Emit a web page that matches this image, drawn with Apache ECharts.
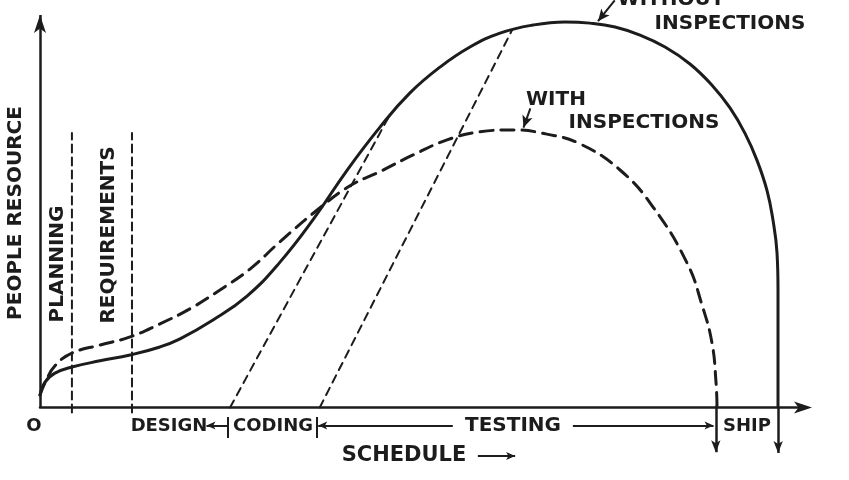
<!DOCTYPE html>
<html><head><meta charset="utf-8">
<script src="https://cdn.jsdelivr.net/npm/echarts@6.0.0/dist/echarts.min.js"></script>
<style>html,body{margin:0;padding:0;background:#fff}#c{width:849px;height:480px}</style>
</head><body><div id="c"></div>
<script>
// Schedule (x) vs people resource (y), arbitrary units
const withoutInspections = [
  [0,3.2],[0.66,6.6],[1.97,8.9],[4.21,10.5],[7.89,12.1],[11.84,13.6],[15.78,15.7],[18.42,17.8],
  [22.76,22.7],[27.23,28.9],[31.57,37.7],[35.99,48.9],[40.41,61.6],[44.75,72.8],[48.67,81.6],
  [52.62,88.3],[56.56,93.5],[60.51,97.1],[64.85,99.2],[69.06,100],[72.35,99.7],[75.64,98.7],
  [78.93,96.6],[82.22,93.5],[85.50,89.1],[88.40,83.6],[90.77,77.7],[92.74,71.1],[94.32,64.1],
  [95.63,56.3],[96.42,48.6],[96.95,40.1],[97.08,30.5],[97.08,0.1]
];
const withInspections = [
  [0,3.2],[0.66,6.4],[1.97,10.8],[4.21,14.1],[7.89,16.2],[11.84,18.3],[15.78,21.7],[19.73,25.6],
  [23.68,30.5],[27.62,35.9],[31.57,43.0],[36.83,51.8],[40.78,57.5],[44.73,61.2],[49.07,65.5],
  [53.54,69.4],[57.88,71.5],[62.22,72.0],[66.69,70.9],[71.03,68.4],[76.30,61.6],[80.64,52.0],
  [85.11,37.5],[87.08,26.6],[88.40,16.7],[88.93,6.4],[89.06,0.1]
];
const codingStart = [[25,0],[45.8,75.1]];
const testingStart = [[36.8,0],[62.1,97.9]];
const planningEnd = [[4.2,-1.3],[4.2,71.2]];
const requirementsEnd = [[12.1,-1.3],[12.1,71.2]];
// arrows: [from, to]
const yAxisArrow = [[[0,0],[0,101.8]]];
const calloutArrows = [[[75.6,105.6],[73.4,100.2]], [[64.5,77.6],[63.6,72.6]]];
const endArrows = [[[88.9,0.5],[88.9,-11.6]], [[97.1,0],[97.1,-11.8]]];
const phaseArrows = [[[54.3,-4.67],[36.6,-4.67]], [[70.1,-4.67],[88.6,-4.67]], [[24.6,-4.67],[21.9,-4.67]], [[57.6,-12.6],[62.5,-12.6]]];
const phaseBars = [[[24.7,-2.5],[24.7,-7.9]], [[36.4,-2.5],[36.4,-7.9]]];

const ink = '#1c1c1c';
const FONT = 'bold 20px "DejaVu Sans"';
const FONT_S = 'bold 18px "DejaVu Sans"';

function marks(name, segs, symbol, size, width) {
  return {
    type: 'line', name, data: [], silent: true, animation: false,
    markLine: {
      silent: true, animation: false, symbol: symbol, symbolSize: size,
      label: { show: false }, emphasis: { disabled: true },
      lineStyle: { color: ink, width: width, type: 'solid' },
      data: segs.map(s => [{ coord: s[0] }, { coord: s[1] }])
    }
  };
}
function lineSeries(name, data, width, type, smooth) {
  return {
    type: 'line', name, data, smooth: smooth, symbol: 'none', silent: true, animation: false,
    clip: false,
    lineStyle: { color: ink, width: width, type: type, cap: 'round' }
  };
}
function txt(text, x, y, font, rot) {
  return { type: 'text', x: x, y: y, rotation: rot || 0, silent: true,
    style: { text: text, font: font, fill: ink, align: 'center', verticalAlign: 'middle' } };
}

const chart = echarts.init(document.getElementById('c'), null, { renderer: 'canvas' });
chart.setOption({
  backgroundColor: '#fff',
  animation: false,
  grid: { left: 40, right: 45, top: 0, bottom: 14.7, containLabel: false },
  xAxis: {
    type: 'value', min: 0, max: 100.5,
    axisLine: { show: true, onZero: true, symbol: ['none', 'arrow'], symbolSize: [9, 18], symbolOffset: [0, 8],
      lineStyle: { color: ink, width: 2.5 } },
    axisTick: { show: false }, axisLabel: { show: false }, splitLine: { show: false }
  },
  yAxis: {
    type: 'value', min: -15, max: 105.7,
    axisLine: { show: false }, axisTick: { show: false }, axisLabel: { show: false }, splitLine: { show: false }
  },
  series: [
    lineSeries('Without inspections', withoutInspections, 3, 'solid', 0.45),
    lineSeries('With inspections', withInspections, 3, [13, 8], 0.45),
    lineSeries('Coding start', codingStart, 2, [8, 6], false),
    lineSeries('Testing start', testingStart, 2, [8, 6], false),
    lineSeries('Planning', planningEnd, 2, [8, 5], false),
    lineSeries('Requirements', requirementsEnd, 2, [8, 5], false),
    marks('yaxis', yAxisArrow, ['none', 'arrow'], [9, 18], 2.5),
    marks('callouts', calloutArrows, ['none', 'arrow'], [8, 12], 2),
    marks('ends', endArrows, ['none', 'arrow'], [7, 12], 2.5),
    marks('phases', phaseArrows, ['none', 'arrow'], [6, 9], 2),
    marks('bars', phaseBars, ['none', 'none'], 0, 2)
  ],
  graphic: [
    txt('WITHOUT', 671, 0, FONT),
    txt('INSPECTIONS', 730, 24, FONT),
    txt('WITH', 556, 100, FONT),
    txt('INSPECTIONS', 644, 123, FONT),
    txt('PEOPLE RESOURCE', 16, 213, FONT, Math.PI / 2),
    txt('PLANNING', 58, 264, FONT, Math.PI / 2),
    txt('REQUIREMENTS', 109, 235, FONT, Math.PI / 2),
    txt('O', 34, 426, FONT_S),
    txt('DESIGN', 169, 426, FONT_S),
    txt('CODING', 273, 426, FONT_S),
    txt('TESTING', 513, 426, 'bold 20px "DejaVu Sans"'),
    txt('SHIP', 747, 426, FONT_S),
    txt('SCHEDULE', 404, 456, 'bold 21px "DejaVu Sans"')
  ]
});
</script></body></html>
